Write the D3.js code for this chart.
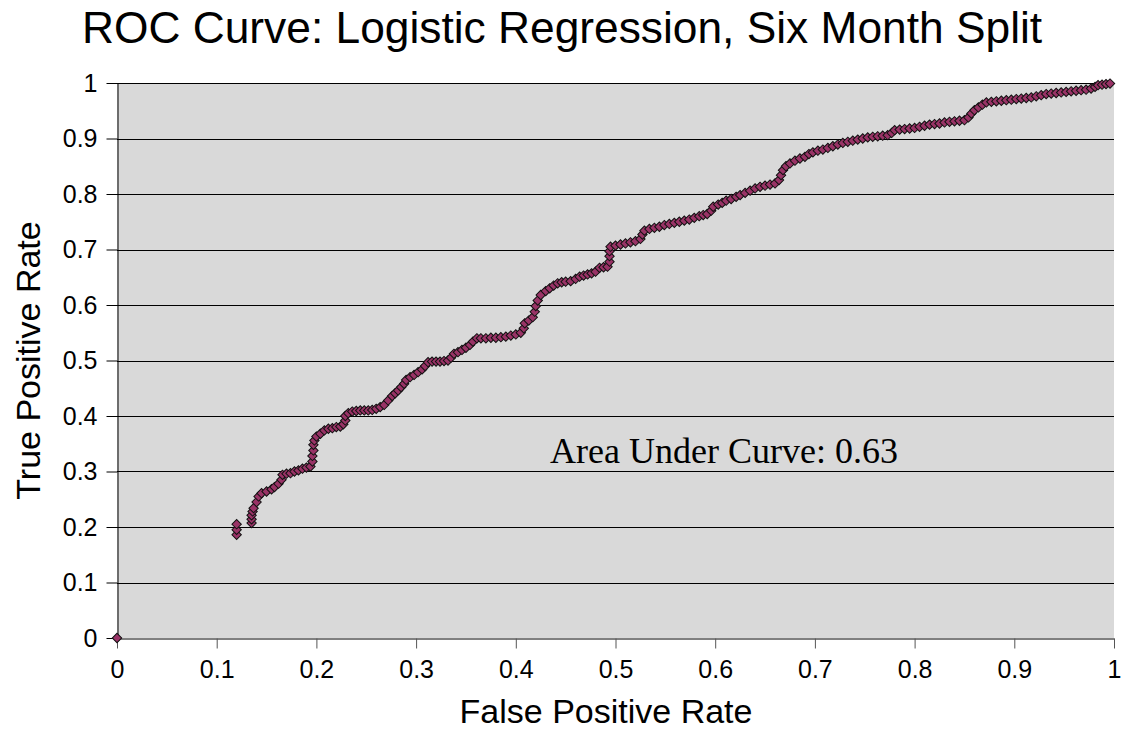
<!DOCTYPE html>
<html>
<head>
<meta charset="utf-8">
<script src="https://cdn.jsdelivr.net/npm/d3@7"></script>
<style>
  body { margin: 0; background: #fff; }
  svg { display: block; }
</style>
</head>
<body>
<svg width="1124" height="731"></svg>
<script>
// valores (fpr, tpr)
var fpr = [0,
  0.12, 0.12, 0.12,
  0.135, 0.135, 0.135, 0.136, 0.137, 0.14, 0.142, 0.145, 0.15, 0.155, 0.158, 0.162, 0.165, 0.166,
  0.17, 0.174, 0.178, 0.182, 0.186, 0.19, 0.194, 0.196, 0.196, 0.197, 0.197, 0.198, 0.2, 0.204,
  0.208, 0.212, 0.216, 0.22, 0.224, 0.227, 0.229, 0.229, 0.232, 0.236, 0.24, 0.244, 0.248, 0.252,
  0.256, 0.26, 0.264, 0.268, 0.272, 0.276, 0.279, 0.282, 0.285, 0.288, 0.29, 0.294, 0.298, 0.302,
  0.306, 0.309, 0.312, 0.316, 0.32, 0.324, 0.328, 0.332, 0.335, 0.338, 0.342, 0.346, 0.35, 0.354,
  0.357, 0.361, 0.365, 0.37, 0.375, 0.38, 0.385, 0.39, 0.395, 0.4, 0.405, 0.408, 0.409, 0.413,
  0.417, 0.419, 0.42, 0.422, 0.425, 0.43, 0.434, 0.438, 0.442, 0.446, 0.45, 0.455, 0.46, 0.464,
  0.468, 0.472, 0.476, 0.48, 0.484, 0.488, 0.492, 0.494, 0.494, 0.494, 0.495, 0.5, 0.505, 0.51,
  0.515, 0.52, 0.525, 0.527, 0.529, 0.534, 0.539, 0.544, 0.549, 0.554, 0.559, 0.564, 0.569, 0.574,
  0.579, 0.584, 0.588, 0.592, 0.596, 0.598, 0.603, 0.607, 0.611, 0.616, 0.621, 0.625, 0.63, 0.635,
  0.64, 0.645, 0.65, 0.655, 0.66, 0.664, 0.666, 0.668, 0.671, 0.675, 0.68, 0.685, 0.69, 0.694,
  0.698, 0.703, 0.708, 0.713, 0.718, 0.723, 0.728, 0.733, 0.738, 0.743, 0.748, 0.753, 0.758, 0.763,
  0.768, 0.773, 0.777, 0.78, 0.785, 0.79, 0.795, 0.8, 0.805, 0.81, 0.815, 0.82, 0.825, 0.83,
  0.835, 0.84, 0.845, 0.85, 0.854, 0.857, 0.86, 0.864, 0.868, 0.872, 0.877, 0.882, 0.887, 0.892,
  0.897, 0.902, 0.907, 0.912, 0.917, 0.922, 0.927, 0.932, 0.937, 0.942, 0.947, 0.952, 0.957, 0.962,
  0.967, 0.972, 0.977, 0.981, 0.984, 0.988, 0.992, 0.996];
var tpr = [0,
  0.186, 0.195, 0.205,
  0.207, 0.214, 0.221, 0.228, 0.234, 0.245, 0.255, 0.261, 0.264, 0.268, 0.272, 0.278, 0.285, 0.294,
  0.296, 0.297, 0.3, 0.302, 0.305, 0.307, 0.309, 0.318, 0.328, 0.338, 0.348, 0.356, 0.363, 0.368,
  0.374, 0.377, 0.378, 0.38, 0.381, 0.385, 0.392, 0.4, 0.405, 0.408, 0.409, 0.41, 0.41, 0.41,
  0.411, 0.413, 0.416, 0.42, 0.428, 0.436, 0.441, 0.446, 0.452, 0.458, 0.465, 0.47, 0.474, 0.479,
  0.484, 0.49, 0.497, 0.498, 0.498, 0.498, 0.499, 0.5, 0.505, 0.512, 0.515, 0.519, 0.523, 0.528,
  0.534, 0.54, 0.54, 0.54, 0.541, 0.541, 0.542, 0.543, 0.545, 0.547, 0.55, 0.558, 0.567, 0.572,
  0.578, 0.588, 0.598, 0.608, 0.618, 0.625, 0.63, 0.635, 0.639, 0.641, 0.642, 0.643, 0.647, 0.651,
  0.653, 0.655, 0.657, 0.66, 0.667, 0.668, 0.669, 0.678, 0.688, 0.697, 0.705, 0.707, 0.709, 0.711,
  0.713, 0.715, 0.719, 0.727, 0.734, 0.737, 0.739, 0.741, 0.744, 0.746, 0.748, 0.75, 0.752, 0.754,
  0.757, 0.76, 0.762, 0.764, 0.77, 0.777, 0.781, 0.784, 0.788, 0.791, 0.795, 0.798, 0.802, 0.806,
  0.81, 0.813, 0.815, 0.817, 0.819, 0.825, 0.834, 0.843, 0.85, 0.855, 0.86, 0.864, 0.867, 0.872,
  0.875, 0.878, 0.88, 0.883, 0.886, 0.889, 0.892, 0.894, 0.896, 0.898, 0.9, 0.902, 0.903, 0.904,
  0.905, 0.906, 0.91, 0.915, 0.916, 0.917, 0.918, 0.919, 0.921, 0.923, 0.925, 0.926, 0.927, 0.929,
  0.93, 0.931, 0.932, 0.933, 0.938, 0.945, 0.951, 0.956, 0.961, 0.965, 0.966, 0.967, 0.968, 0.969,
  0.97, 0.971, 0.972, 0.973, 0.974, 0.976, 0.978, 0.98, 0.981, 0.982, 0.983, 0.984, 0.985, 0.986,
  0.987, 0.988, 0.99, 0.993, 0.996, 0.997, 0.998, 0.999];
var ticks = d3.range(0, 11).map(function(i) { return i / 10; });
var tickLabels = ["0", "0.1", "0.2", "0.3", "0.4", "0.5", "0.6", "0.7", "0.8", "0.9", "1"];
var titulo = "ROC Curve: Logistic Regression, Six Month Split";
var nota = "Area Under Curve: 0.63";

var svg = d3.select("svg"),
  mLeft = 117, mTop = 83, w = 997, h = 555;

var x = d3.scaleLinear().domain([0, 1]).range([mLeft, mLeft + w]),
  y = d3.scaleLinear().domain([0, 1]).range([mTop + h, mTop]);

// fondo gris
svg.append("rect")
  .attr("x", mLeft).attr("y", mTop).attr("width", w).attr("height", h)
  .attr("fill", "#d9d9d9");

// lineas de la rejilla
svg.selectAll(".grid").data(ticks.slice(1)).enter().append("line")
  .attr("x1", mLeft).attr("x2", mLeft + w)
  .attr("y1", function(d) { return Math.round(y(d)) + 0.5; })
  .attr("y2", function(d) { return Math.round(y(d)) + 0.5; })
  .attr("stroke", "#000").attr("stroke-width", 1);

// ejes
var fmt = function(d, i) { return tickLabels[i]; };
var ax = svg.append("g").attr("transform", "translate(0," + (mTop + h + 0.5) + ")")
  .call(d3.axisBottom(x).tickValues(ticks).tickFormat(fmt).tickSize(10).tickPadding(12).tickSizeOuter(0));
var ay = svg.append("g").attr("transform", "translate(" + (mLeft + 0.5) + ",0)")
  .call(d3.axisLeft(y).tickValues(ticks).tickFormat(fmt).tickSize(11).tickPadding(9).tickSizeOuter(0));
[ax, ay].forEach(function(g) {
  g.select(".domain").attr("stroke", "#000");
  g.selectAll(".tick line").attr("stroke", "#000");
  g.selectAll("text").attr("font-family", "Liberation Sans, Arial, sans-serif")
    .attr("font-size", 25).attr("fill", "#000");
});
ax.selectAll(".tick line").attr("stroke", "#555");

// puntos (diamantes)
var diamante = d3.symbol().type(d3.symbolSquare).size(44);
svg.selectAll(".pt").data(fpr).enter().append("path")
  .attr("d", diamante)
  .attr("transform", function(d, i) { return "translate(" + x(d) + "," + y(tpr[i]) + ") rotate(45)"; })
  .attr("fill", "#993366").attr("stroke", "#111").attr("stroke-width", 1);

// textos
svg.append("text").attr("x", 82).attr("y", 43)
  .attr("font-family", "Liberation Sans, Arial, sans-serif").attr("font-size", 44.3)
  .text(titulo);
svg.append("text").attr("x", 606).attr("y", 723).attr("text-anchor", "middle")
  .attr("font-family", "Liberation Sans, Arial, sans-serif").attr("font-size", 34)
  .text("False Positive Rate");
svg.append("text").attr("transform", "translate(40," + (mTop + h / 2) + ") rotate(-90)")
  .attr("text-anchor", "middle")
  .attr("font-family", "Liberation Sans, Arial, sans-serif").attr("font-size", 34)
  .text("True Positive Rate");
svg.append("text").attr("x", 550).attr("y", 463)
  .attr("font-family", "Liberation Serif, Times New Roman, serif").attr("font-size", 36)
  .text(nota);
</script>
</body>
</html>
